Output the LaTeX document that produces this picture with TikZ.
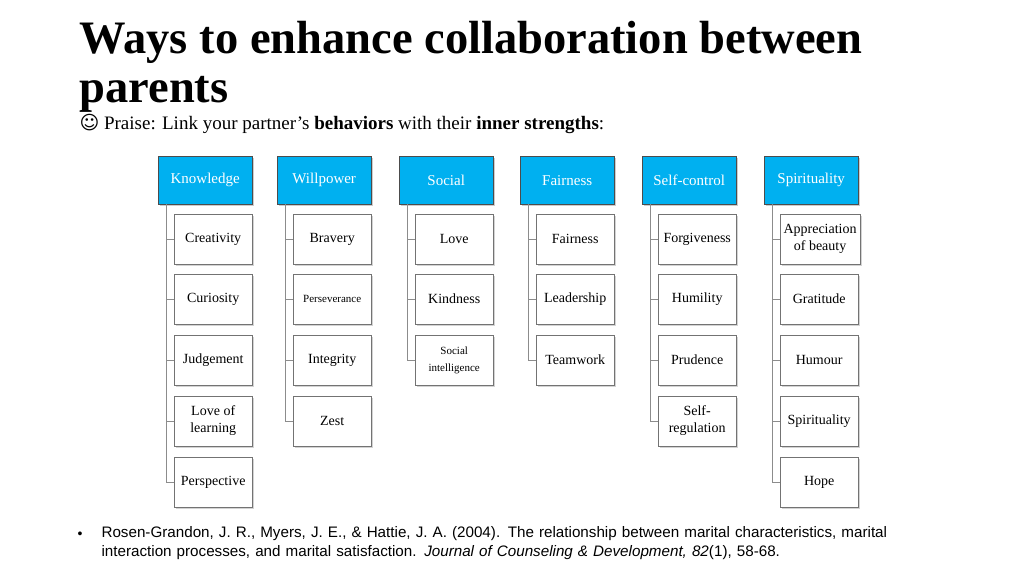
\documentclass[tikz,border=0pt]{standalone}
\usepackage{fontspec}
\setmainfont{Liberation Serif}
\newfontfamily\footfont{Liberation Sans}
\newfontfamily\symfont{DejaVu Sans}
\usetikzlibrary{shadows}
\definecolor{hdr}{RGB}{0,176,240}
\newcommand{\smallk}{\fontsize{11}{14}\selectfont}
\tikzset{
 hdrbox/.style={draw=black!70,fill=hdr,text=white,minimum width=94pt,minimum height=48pt,anchor=north west,font=\fontsize{15}{17}\selectfont,drop shadow={shadow xshift=2pt,shadow yshift=-2pt,opacity=0.4}},
 kid/.style={draw=black!55,fill=white,minimum width=78pt,minimum height=50pt,anchor=west,align=center,font=\fontsize{14}{17}\selectfont,drop shadow={shadow xshift=2pt,shadow yshift=-2pt,opacity=0.35}},
 trunk/.style={draw=black!45,line width=0.8pt}
}
\begin{document}
\begin{tikzpicture}[x=1pt,y=-1pt]
\useasboundingbox (0,0) rectangle (1024,576);
\node[anchor=base west,font=\fontsize{46.5}{48}\selectfont\bfseries] (t1) at (76,53) {Ways to enhance collaboration between};
\node[anchor=base west,font=\fontsize{46.5}{48}\selectfont\bfseries] (t2) at (76,102) {parents};
\node[anchor=base west,font=\fontsize{19}{21}\selectfont] (t3) at (76,129) {{\symfont ☺} Praise: Link your partner’s \textbf{behaviors} with their \textbf{inner strengths}:};
\def\rowy{{239,299,360,421,482}}
\foreach \n/\x/\lab/\kids in {
 k/158/Knowledge/{Creativity,Curiosity,Judgement,Love of\\learning,Perspective},
 w/277/Willpower/{Bravery,\smallk Perseverance,Integrity,Zest},
 s/399/Social/{Love,Kindness,\smallk Social\\\smallk intelligence},
 f/520/Fairness/{Fairness,Leadership,Teamwork},
 c/642/Self-control/{Forgiveness,Humility,Prudence,Self-\\regulation},
 p/764/Spirituality/{Appreciation\\of beauty,Gratitude,Humour,Spirituality,Hope}}{
 \node[hdrbox] (\n h) at (\x,156) {\lab};
 \foreach \kk [count=\i] in \kids {
   \pgfmathsetmacro\yy{\rowy[\i-1]}
   \node[kid] (\n\i) at (\x+16,\yy) {\kk};
   \draw[trunk] (\n h.south west) ++(8,0) |- (\n\i.west);
 }
}
\node[anchor=north west,align=left,text width=815pt,font=\footfont\fontsize{15.2}{19}\selectfont] (ref) at (98,523)
 {Rosen-Grandon, J. R., Myers, J. E., \& Hattie, J. A. (2004). The relationship between marital characteristics, marital interaction processes, and marital satisfaction. \textit{Journal of Counseling \& Development, 82}(1), 58-68.};
\node[font=\footfont\fontsize{14}{16}\selectfont] (b) at (80,535) {•};
\end{tikzpicture}
\end{document}
